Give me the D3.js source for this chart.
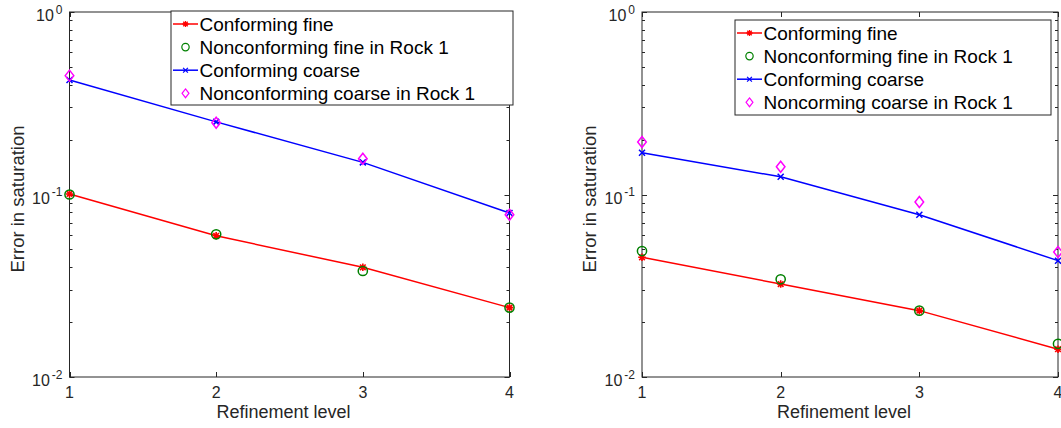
<!DOCTYPE html>
<html>
<head>
<meta charset="utf-8">
<script src="https://cdn.jsdelivr.net/npm/d3@7"></script>
<style>
  body { margin: 0; background: #fff; }
  svg { display: block; font-family: "Liberation Sans", Arial, Helvetica, sans-serif; }
</style>
</head>
<body>
<svg id="chart" width="1061" height="428"></svg>
<script>
// refinement levels on the x axis
var levels = [1, 2, 3, 4];

// errors, left plot
var leftConfFine = [0.1007, 0.0594, 0.0399, 0.0240];
var leftNoncFine = [0.1000, 0.0605, 0.0381, 0.0240];
var leftConfCoarse = [0.424, 0.250, 0.150, 0.0792];
var leftNoncCoarse = [0.448, 0.247, 0.157, 0.0775];

// errors, right plot
var rightConfFine = [0.0453, 0.0323, 0.0231, 0.0142];
var rightNoncFine = [0.0490, 0.0343, 0.0231, 0.0152];
var rightConfCoarse = [0.1695, 0.125, 0.0775, 0.0434];
var rightNoncCoarse = [0.194, 0.142, 0.091, 0.0484];

var leftLegend = ["Conforming fine", "Nonconforming fine in Rock 1", "Conforming coarse", "Nonconforming coarse in Rock 1"];
var rightLegend = ["Conforming fine", "Nonconforming fine in Rock 1", "Conforming coarse", "Noncorming coarse in Rock 1"];

var yExponents = [-2, -1, 0];
var yLabel = "Error in saturation";
var xLabel = "Refinement level";

var svg = d3.select("#chart");
var axisColor = "#262626";

// series styles: colour, line on/off, marker kind
var styles = [
  {color: "#ff0000", line: true, marker: "star"},
  {color: "#008000", line: false, marker: "circle"},
  {color: "#0000ff", line: true, marker: "cross"},
  {color: "#ff00ff", line: false, marker: "diamond"}
];

function drawMarker(g, kind, color) {
  if (kind == "circle") {
    g.append("circle").attr("r", 4.6).attr("fill", "none")
      .attr("stroke", color).attr("stroke-width", 1.5);
  } else if (kind == "diamond") {
    g.append("path").attr("d", "M0,-5.5 L4.3,0 L0,5.5 L-4.3,0 Z").attr("fill", "none")
      .attr("stroke", color).attr("stroke-width", 1.5);
  } else if (kind == "cross") {
    g.append("path").attr("d", "M-3,-3 L3,3 M-3,3 L3,-3").attr("fill", "none")
      .attr("stroke", color).attr("stroke-width", 1.5);
  } else {
    g.append("path").attr("d", "M-3.8,0 L3.8,0 M0,-3.8 L0,3.8 M-2.8,-2.8 L2.8,2.8 M-2.8,2.8 L2.8,-2.8")
      .attr("fill", "none").attr("stroke", color).attr("stroke-width", 1.6);
  }
}

function drawPanel(opt) {
  var x = d3.scaleLinear().domain([1, 4]).range([opt.x0, opt.x1]);
  var y = d3.scaleLog().domain([1e-2, 1]).range([377, 12]);
  var g = svg.append("g");

  // minor + major ticks (inward, both sides), MATLAB box style
  var minor = [];
  [0.01, 0.1].forEach(function (dec) {
    for (var k = 2; k <= 9; k++) minor.push(dec * k);
  });
  var ticksG = g.append("g").attr("stroke", axisColor).attr("stroke-width", 1);
  minor.forEach(function (v) {
    var yy = Math.round(y(v)) + 0.5;
    ticksG.append("line").attr("x1", opt.x0).attr("x2", opt.x0 + 3).attr("y1", yy).attr("y2", yy);
    ticksG.append("line").attr("x1", opt.x1).attr("x2", opt.x1 - 3).attr("y1", yy).attr("y2", yy);
  });
  yExponents.forEach(function (e) {
    var yy = Math.round(y(Math.pow(10, e))) + 0.5;
    ticksG.append("line").attr("x1", opt.x0).attr("x2", opt.x0 + 5).attr("y1", yy).attr("y2", yy);
    ticksG.append("line").attr("x1", opt.x1).attr("x2", opt.x1 - 5).attr("y1", yy).attr("y2", yy);
  });
  levels.forEach(function (l) {
    var xx = Math.round(x(l)) + 0.5;
    ticksG.append("line").attr("x1", xx).attr("x2", xx).attr("y1", 377).attr("y2", 372);
    ticksG.append("line").attr("x1", xx).attr("x2", xx).attr("y1", 12).attr("y2", 17);
  });

  g.append("rect")
    .attr("x", opt.x0).attr("y", 12)
    .attr("width", opt.x1 - opt.x0).attr("height", 365)
    .attr("fill", "none").attr("stroke", axisColor).attr("stroke-width", 1);

  // y tick labels as 10^e
  yExponents.forEach(function (e) {
    var t = g.append("text")
      .attr("x", opt.x0 - 7)
      .attr("y", y(Math.pow(10, e)) + 9)
      .attr("text-anchor", "end")
      .attr("font-size", "16px")
      .attr("fill", axisColor);
    t.append("tspan").text("10");
    t.append("tspan").attr("dx", 2).attr("dy", -7.5).attr("font-size", "12px").text(e);
  });

  // x tick labels
  levels.forEach(function (l) {
    g.append("text")
      .attr("x", x(l)).attr("y", 398)
      .attr("text-anchor", "middle")
      .attr("font-size", "16px")
      .attr("fill", axisColor)
      .text(l);
  });

  g.append("text")
    .attr("x", (opt.x0 + opt.x1) / 2 - 6).attr("y", 418)
    .attr("text-anchor", "middle")
    .attr("font-size", "18px")
    .attr("fill", axisColor)
    .text(xLabel);

  g.append("text")
    .attr("transform", "translate(" + (opt.x0 - 46) + "," + 199 + ") rotate(-90)")
    .attr("text-anchor", "middle")
    .attr("font-size", "18.5px")
    .attr("fill", axisColor)
    .text(yLabel);

  // series
  var line = d3.line()
    .x(function (d, i) { return x(levels[i]); })
    .y(function (d) { return y(d); });

  opt.series.forEach(function (vals, si) {
    var st = styles[si];
    if (st.line) {
      g.append("path").datum(vals)
        .attr("d", line)
        .attr("fill", "none")
        .attr("stroke", st.color)
        .attr("stroke-width", 1.5);
    }
    vals.forEach(function (v, i) {
      var m = g.append("g").attr("transform", "translate(" + x(levels[i]) + "," + y(v) + ")");
      drawMarker(m, st.marker, st.color);
    });
  });

  // legend
  var lg = g.append("g");
  lg.append("rect")
    .attr("x", opt.lx).attr("y", opt.ly)
    .attr("width", opt.lw).attr("height", opt.lh)
    .attr("fill", "#fff").attr("stroke", axisColor).attr("stroke-width", 1);
  opt.labels.forEach(function (lab, i) {
    var cy = opt.ly + 13 + i * 23.1;
    var st = styles[i];
    var sx0 = opt.lx + 2, sx1 = opt.lx + 27;
    if (st.line) {
      lg.append("line").attr("x1", sx0).attr("x2", sx1).attr("y1", cy).attr("y2", cy)
        .attr("stroke", st.color).attr("stroke-width", 1.5);
    }
    var m = lg.append("g").attr("transform", "translate(" + ((sx0 + sx1) / 2) + "," + cy + ") scale(0.8)");
    drawMarker(m, st.marker, st.color);
    lg.append("text")
      .attr("x", opt.lx + 28.5).attr("y", cy + 7)
      .attr("font-size", "19px")
      .attr("fill", "#000")
      .text(lab);
  });
}

drawPanel({
  x0: 69.5, x1: 509.5,
  series: [leftConfFine, leftNoncFine, leftConfCoarse, leftNoncCoarse],
  labels: leftLegend,
  lx: 171, ly: 11, lw: 342, lh: 94
});

drawPanel({
  x0: 642, x1: 1058,
  series: [rightConfFine, rightNoncFine, rightConfCoarse, rightNoncCoarse],
  labels: rightLegend,
  lx: 735, ly: 20, lw: 316, lh: 95
});
</script>
</body>
</html>
